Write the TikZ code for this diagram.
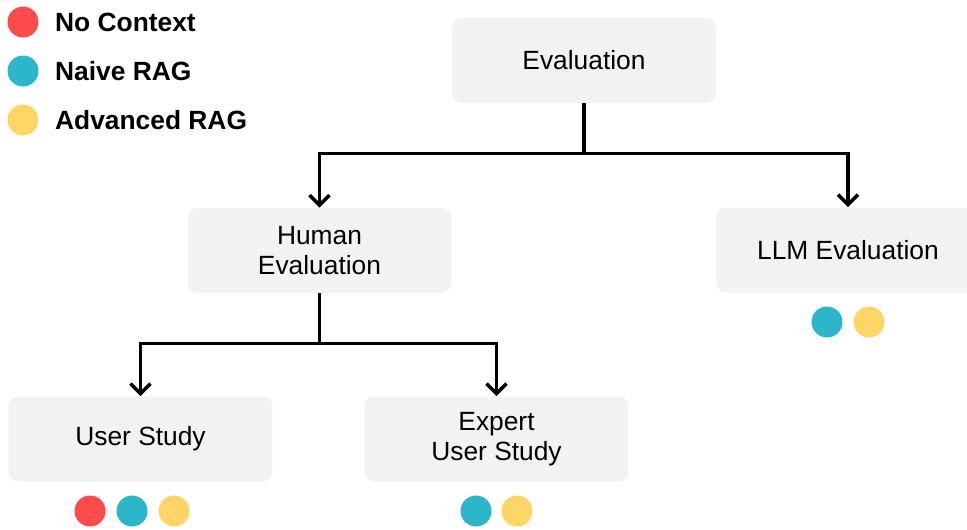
\documentclass[tikz,border=0pt]{standalone}
\usepackage{fontspec}
\setmainfont{Liberation Sans}
\usetikzlibrary{arrows.meta,positioning}
\definecolor{noctx}{HTML}{FF4B4B}
\definecolor{naive}{HTML}{2BB7C9}
\definecolor{advrag}{HTML}{FFD666}
\definecolor{boxgray}{HTML}{F2F2F2}

\begin{document}
\begin{tikzpicture}[
            x=0.02cm, y=-0.02cm,
            every node/.style={font=\fontsize{15}{17}\selectfont, align=center},
            box/.style={fill=boxgray, rounded corners=0.2cm, minimum width=5.28cm, minimum height=1.7cm, inner sep=0pt},
            dot/.style={circle, minimum size=0.62cm, inner sep=0pt},
            legend/.style={anchor=west, font=\fontsize{15}{17}\selectfont\bfseries},
            link/.style={draw, line width=2pt, -{Straight Barb[length=2mm, width=4mm]}}
        ]

            \useasboundingbox (0,0) rectangle (967,529);

            \node[dot, fill=noctx] (keynoctx) at (23,22) {};
            \node[dot, fill=naive] (keynaive) at (23,71) {};
            \node[dot, fill=advrag] (keyadv) at (23,120) {};
            \node[legend] at (49,22) {No Context};
            \node[legend] at (49,71) {Naive RAG};
            \node[legend] at (49,120) {Advanced RAG};

            \node[box] (eval) at (584,60.5) {Evaluation};
            \node[box] (human) at (319.5,250.5) {Human \\ Evaluation};
            \node[box] (llm) at (848,250) {LLM Evaluation};
            \node[box] (user) at (140.5,439) {User Study};
            \node[box] (expert) at (496.5,439) {Expert \\ User Study};

            \draw[link] (eval.south) -- ++(0,50) -| (human.north);
            \draw[link] (eval.south) -- ++(0,50) -| (llm.north);
            \draw[link] (human.south) -- ++(0,50) -| (user.north);
            \draw[link] (human.south) -- ++(0,50) -| (expert.north);

            \node[dot, fill=naive] (llmnaive) at (827,322) {};
            \node[dot, fill=advrag] (llmadv) at (869,322) {};

            \node[dot, fill=noctx] (usernoctx) at (90,511) {};
            \node[dot, fill=naive] (usernaive) at (132,511) {};
            \node[dot, fill=advrag] (useradv) at (174,511) {};

            \node[dot, fill=naive] (expertnaive) at (476,511) {};
            \node[dot, fill=advrag] (expertadv) at (517,511) {};

        \end{tikzpicture}
\end{document}
